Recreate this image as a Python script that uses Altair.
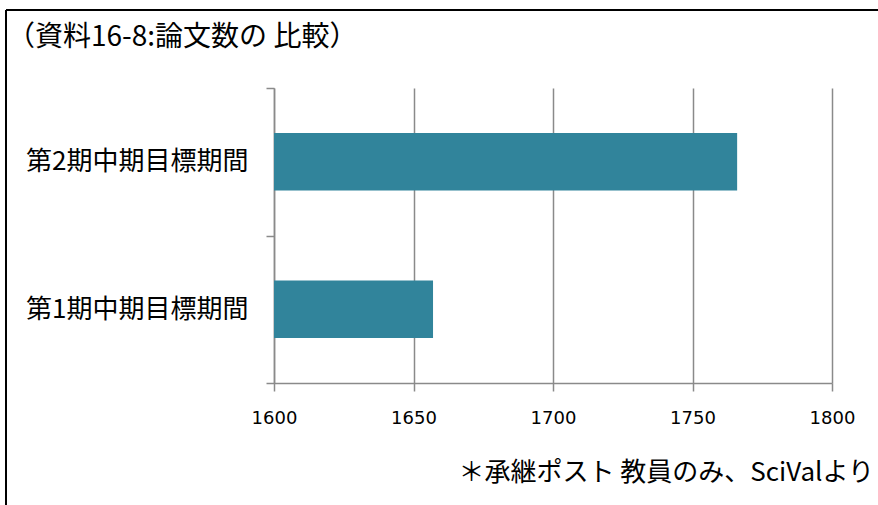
import altair as alt
import pandas as pd

periods = ["第2期中期目標期間", "第1期中期目標期間"]
papers = [1766, 1657]
x_ticks = [1600, 1650, 1700, 1750, 1800]
title_text = ["（資料16-8:論文数の 比較）"]
note_text = ["＊承継ポスト 教員のみ、SciValより"]

CJK = "Noto Sans CJK JP"
df = pd.DataFrame({"period": periods, "papers": papers})

W, H = 558, 295
PAD_L, PAD_T, PAD_R, PAD_B = 274, 88, 46, 122

bars = alt.Chart(df).mark_bar(color="#31849b", height=alt.RelativeBandSize(0.39)).encode(
    y=alt.Y("period:N", sort=periods, title=None,
            scale=alt.Scale(paddingInner=0, paddingOuter=0),
            axis=alt.Axis(tickBand="extent", domainColor="#8a8a8a", tickColor="#8a8a8a",
                          domainWidth=1.5, tickWidth=1.5, tickSize=8, labelPadding=18,
                          labelFont=CJK, labelFontSize=26, labelColor="#000000",
                          labelLimit=400, grid=False)),
    x=alt.X("papers:Q", title=None,
            scale=alt.Scale(domain=[1600, 1800], zero=False, nice=False),
            axis=alt.Axis(values=x_ticks, grid=True, gridColor="#8a8a8a", gridWidth=1.5,
                          domainColor="#8a8a8a", tickColor="#8a8a8a", domainWidth=1.5,
                          tickWidth=1.5, tickSize=8, labelPadding=18, labelFlush=False,
                          labelFont="DejaVu Sans", labelFontSize=18, labelColor="#000000",
                          format="d")),
    x2=alt.datum(1600),
)

title = alt.Chart(pd.DataFrame({"t": title_text})).mark_text(
    font=CJK, fontSize=28, align="left", baseline="middle", color="#000000"
).encode(text="t:N", x=alt.value(-267), y=alt.value(-50))

note = alt.Chart(pd.DataFrame({"t": note_text})).mark_text(
    font=CJK, fontSize=26, align="right", baseline="middle", color="#000000"
).encode(text="t:N", x=alt.value(600), y=alt.value(385))

frame_top = alt.Chart(pd.DataFrame({"a": [0]})).mark_rule(color="#000000", strokeWidth=2).encode(
    x=alt.value(-268), x2=alt.value(W + PAD_R), y=alt.value(-78))
frame_left = alt.Chart(pd.DataFrame({"a": [0]})).mark_rule(color="#000000", strokeWidth=2).encode(
    x=alt.value(-268), y=alt.value(-78), y2=alt.value(H + PAD_B))

chart = alt.layer(bars, title, note, frame_top, frame_left).properties(
    width=W, height=H,
    autosize=alt.AutoSizeParams(type="none"),
    padding={"left": PAD_L, "top": PAD_T, "right": PAD_R, "bottom": PAD_B},
    background="#ffffff",
).configure_view(stroke=None)

chart.save("out.html", embed_options={"renderer": "svg", "actions": False})
